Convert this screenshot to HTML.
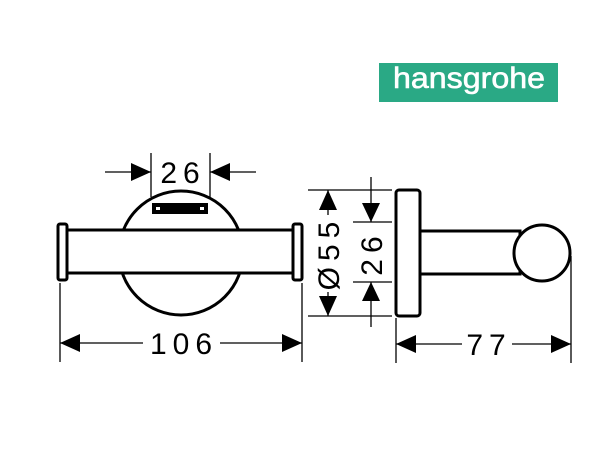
<!DOCTYPE html>
<html><head><style>body{margin:0;background:#fff}svg{display:block}</style></head><body>
<svg width="601" height="462" viewBox="0 0 601 462" xmlns="http://www.w3.org/2000/svg" font-family="Liberation Sans, sans-serif">
<rect x="379" y="63" width="179" height="39" fill="#2aa985"/>
<text x="469" y="88" fill="#fff" stroke="#fff" stroke-width="0.6" font-size="30" text-anchor="middle" textLength="152" lengthAdjust="spacingAndGlyphs">hansgrohe</text>
<g stroke="#000" fill="none" stroke-width="1.3">
<line x1="151" y1="153" x2="151" y2="197"/><line x1="210" y1="153" x2="210" y2="197"/>
<line x1="105" y1="172" x2="151" y2="172"/><line x1="210" y1="172" x2="256" y2="172"/>
<line x1="60" y1="283" x2="60" y2="362"/><line x1="302" y1="283" x2="302" y2="362"/>
<line x1="60" y1="343" x2="143" y2="343"/><line x1="220" y1="343" x2="302" y2="343"/>
<line x1="308" y1="190" x2="392" y2="190"/><line x1="308" y1="316" x2="392" y2="316"/>
<line x1="328" y1="190" x2="328" y2="215"/><line x1="328" y1="292" x2="328" y2="316"/>
<line x1="353" y1="222" x2="392" y2="222"/><line x1="353" y1="282" x2="392" y2="282"/>
<line x1="371" y1="177" x2="371" y2="222"/><line x1="371" y1="282" x2="371" y2="327"/>
<line x1="396" y1="318" x2="396" y2="363"/><line x1="571" y1="256" x2="571" y2="363"/>
<line x1="396" y1="344" x2="462" y2="344"/><line x1="512" y1="344" x2="571" y2="344"/>
</g>
<g fill="#000">
<polygon points="151,172 131,163 131,181"/><polygon points="210,172 230,163 230,181"/>
<polygon points="60,343 80,334 80,352"/><polygon points="302,343 282,334 282,352"/>
<polygon points="328,190 319,210 337,210"/><polygon points="328,316 319,296 337,296"/>
<polygon points="371,222 362,203 380,203"/><polygon points="371,282 362,301 380,301"/>
<polygon points="396,344 416,335 416,353"/><polygon points="571,344 551,335 551,353"/>
</g>
<g stroke="#000" stroke-width="3" fill="#fff">
<circle cx="181" cy="253" r="62"/>
<circle cx="181" cy="253" r="20" stroke-width="2"/>
<rect x="67" y="230" width="228" height="43"/>
<rect x="58" y="224" width="9" height="56" rx="2"/>
<rect x="293" y="224" width="9" height="56" rx="2"/>
<rect x="396" y="190" width="24" height="126" rx="3"/>
<rect x="420" y="231" width="100" height="43"/>
<circle cx="542" cy="253" r="28"/>
</g>
<rect x="152" y="203" width="56" height="11" fill="#000"/>
<rect x="156" y="207" width="4" height="3" fill="#fff"/><rect x="200" y="207" width="4" height="3" fill="#fff"/>
<g font-size="30" fill="#000" text-anchor="middle" letter-spacing="6">
<text x="183" y="183">26</text>
<text x="184" y="354">106</text>
<text x="489" y="355">77</text>
<text transform="translate(339,253) rotate(-90)">Ø55</text>
<text transform="translate(382,253) rotate(-90)">26</text>
</g>
</svg>
</body></html>
